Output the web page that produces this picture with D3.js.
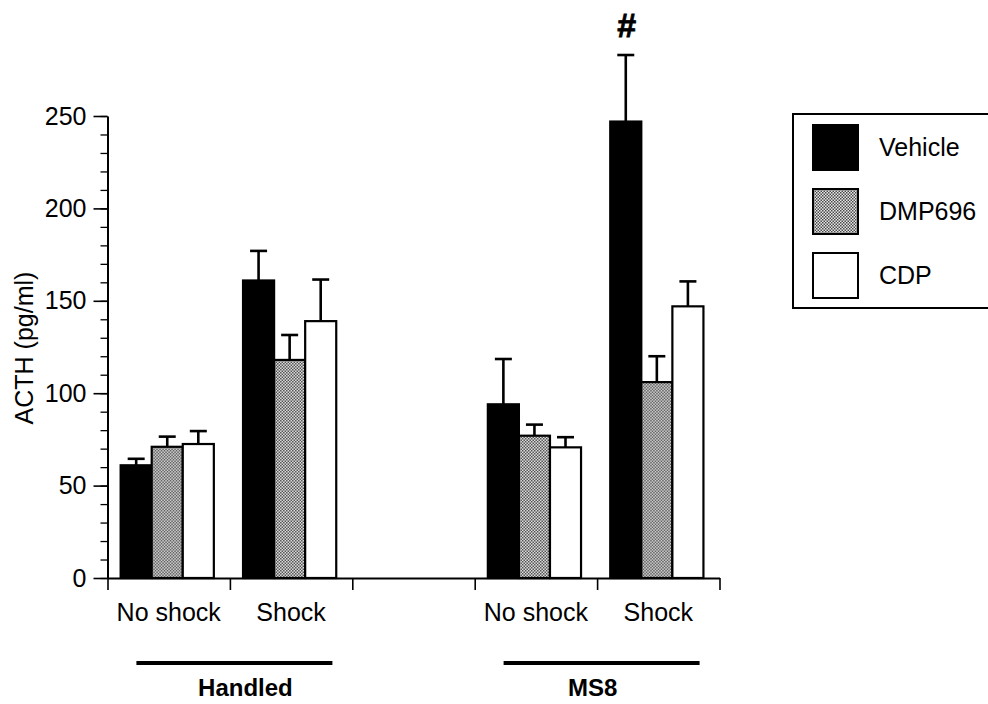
<!DOCTYPE html>
<html>
<head>
<meta charset="utf-8">
<script src="https://cdn.jsdelivr.net/npm/d3@7"></script>
<style>
  html, body { margin: 0; padding: 0; background: #fff; }
  svg { display: block; font-family: "Liberation Sans", Arial, Helvetica, sans-serif; }
</style>
</head>
<body>
<div id="chart"></div>
<script>
const WIDTH = 988;
const HEIGHT = 704;

const AXIS_LEFT = 107.5;
const AXIS_RIGHT = 719.5;
const Y_BOTTOM = 578;
const Y_TOP = 116;
const FONT_SIZE = 25;
const BOLD_SIZE = 24;
const GROUP_LINE_HALF = 98;
const GROUP_LINE_SHIFT = 4.5;
const GROUP_LABEL_SHIFT = { Handled: 11, MS8: -9 };

// data
const groups = ["Handled", "MS8"];
const conditions = ["No shock", "Shock"];
const series = ["Vehicle", "DMP696", "CDP"];
const vehicleValues = [61, 161, 94, 247];
const dmp696Values = [71, 118, 77, 106];
const cdpValues = [72.5, 139, 70.7, 147];
const vehicleErrors = [3.5, 16, 24.5, 36];
const dmp696Errors = [5.5, 13.5, 6, 14];
const cdpErrors = [7, 22.5, 5.5, 13.5];
const yTicks = [0, 50, 100, 150, 200, 250];
const markedBar = { group: "MS8", condition: "Shock", series: "Vehicle", label: "#" };

// slots along the x axis, with an empty slot between the two groups
const slots = [];
groups.forEach((g, gi) => {
  if (gi > 0) slots.push("gap");
  conditions.forEach(c => slots.push(g + "|" + c));
});

const valuesBySeries = { Vehicle: vehicleValues, DMP696: dmp696Values, CDP: cdpValues };
const errorsBySeries = { Vehicle: vehicleErrors, DMP696: dmp696Errors, CDP: cdpErrors };

const rows = [];
groups.forEach((g, gi) => {
  conditions.forEach((c, ci) => {
    const idx = gi * conditions.length + ci;
    series.forEach(s => {
      rows.push({ group: g, condition: c, series: s,
        value: valuesBySeries[s][idx], error: errorsBySeries[s][idx] });
    });
  });
});

const svg = d3.select("#chart").append("svg")
  .attr("width", WIDTH)
  .attr("height", HEIGHT);

// halftone fill used for the DMP696 bars
const defs = svg.append("defs");
const pat = defs.append("pattern")
  .attr("id", "halftone")
  .attr("patternUnits", "userSpaceOnUse")
  .attr("width", 3).attr("height", 3);
pat.append("rect").attr("width", 3).attr("height", 3).attr("fill", "#e6e6e6");
pat.append("rect").attr("x", 0).attr("y", 0).attr("width", 1.5).attr("height", 1.5).attr("fill", "#4a4a4a");
pat.append("rect").attr("x", 1.5).attr("y", 1.5).attr("width", 1.5).attr("height", 1.5).attr("fill", "#4a4a4a");

const fills = { Vehicle: "#000", DMP696: "url(#halftone)", CDP: "#fff" };

const y = d3.scaleLinear().domain([0, 250]).range([Y_BOTTOM, Y_TOP]);
const x = d3.scaleBand().domain(slots).range([AXIS_LEFT, AXIS_RIGHT]).padding(0);
const xInner = d3.scaleBand().domain(series).range([0, x.bandwidth()])
  .paddingInner(0).paddingOuter(0.47).align(0.45);
const xEdges = d3.scaleLinear().domain([0, slots.length]).range([AXIS_LEFT, AXIS_RIGHT]);

// y axis: minor ticks every 10, major every 50
svg.append("g")
  .attr("transform", `translate(${AXIS_LEFT},0)`)
  .call(d3.axisLeft(y).tickValues(d3.range(0, 251, 10)).tickSize(7).tickFormat(""))
  .call(g => g.select(".domain").remove())
  .call(g => g.selectAll("line").attr("stroke-width", 1.3));

svg.append("g")
  .attr("transform", `translate(${AXIS_LEFT},0)`)
  .call(d3.axisLeft(y).tickValues(yTicks).tickSize(14).tickPadding(7).tickSizeOuter(0))
  .call(g => g.select(".domain").attr("stroke-width", 2))
  .call(g => g.selectAll("line").attr("stroke-width", 1.6))
  .call(g => g.selectAll("text")
    .attr("font-size", FONT_SIZE)
    .attr("font-family", "'Liberation Sans', Arial, sans-serif")
    .attr("fill", "#000"));

// x axis: ticks at slot edges
svg.append("g")
  .attr("transform", `translate(0,${Y_BOTTOM})`)
  .call(d3.axisBottom(xEdges).tickValues(d3.range(0, slots.length + 1)).tickSize(12).tickFormat("").tickSizeOuter(0))
  .call(g => g.select(".domain").attr("stroke-width", 2))
  .call(g => g.selectAll("line").attr("stroke-width", 1.6));

// y axis title
svg.append("text")
  .attr("transform", `translate(33,${(Y_BOTTOM + Y_TOP) / 2 + 1}) rotate(-90)`)
  .attr("text-anchor", "middle")
  .attr("font-size", FONT_SIZE)
  .text("ACTH (pg/ml)");

// bars
const barGroups = svg.append("g").selectAll("g")
  .data(rows)
  .join("g")
  .attr("transform", d => `translate(${x(d.group + "|" + d.condition) + xInner(d.series)},0)`);

// error bars (upper only), drawn first so the bar outline sits on top
barGroups.append("line")
  .attr("x1", xInner.bandwidth() / 2)
  .attr("x2", xInner.bandwidth() / 2)
  .attr("y1", d => y(d.value))
  .attr("y2", d => y(d.value + d.error))
  .attr("stroke", "#000")
  .attr("stroke-width", 2.6);

barGroups.append("line")
  .attr("x1", xInner.bandwidth() / 2 - 8.5)
  .attr("x2", xInner.bandwidth() / 2 + 8.5)
  .attr("y1", d => y(d.value + d.error))
  .attr("y2", d => y(d.value + d.error))
  .attr("stroke", "#000")
  .attr("stroke-width", 2.6);

barGroups.append("rect")
  .attr("x", 0)
  .attr("y", d => y(d.value))
  .attr("width", xInner.bandwidth())
  .attr("height", d => y(0) - y(d.value))
  .attr("fill", d => fills[d.series])
  .attr("stroke", "#000")
  .attr("stroke-width", 2.2);

// significance mark
const marked = rows.find(d => d.group === markedBar.group && d.condition === markedBar.condition && d.series === markedBar.series);
svg.append("text")
  .attr("x", x(marked.group + "|" + marked.condition) + xInner(marked.series) + xInner.bandwidth() / 2 + 1)
  .attr("y", y(marked.value + marked.error) - 18)
  .attr("text-anchor", "middle")
  .attr("font-size", 34)
  .attr("font-weight", "bold")
  .attr("stroke", "#000")
  .attr("stroke-width", 0.8)
  .text(markedBar.label);

// condition labels under the axis
slots.filter(s => s !== "gap").forEach(s => {
  svg.append("text")
    .attr("x", x(s) + x.bandwidth() / 2)
    .attr("y", 621)
    .attr("text-anchor", "middle")
    .attr("font-size", FONT_SIZE)
    .text(s.split("|")[1]);
});

// group bars and labels
groups.forEach(g => {
  const x0 = x(g + "|" + conditions[0]);
  const x1 = x(g + "|" + conditions[conditions.length - 1]) + x.bandwidth();
  const cx = (x0 + x1) / 2 + GROUP_LINE_SHIFT;
  svg.append("line")
    .attr("x1", cx - GROUP_LINE_HALF).attr("x2", cx + GROUP_LINE_HALF)
    .attr("y1", 663).attr("y2", 663)
    .attr("stroke", "#000")
    .attr("stroke-width", 4);
  svg.append("text")
    .attr("x", cx + GROUP_LABEL_SHIFT[g])
    .attr("y", 696)
    .attr("text-anchor", "middle")
    .attr("font-size", BOLD_SIZE)
    .attr("font-weight", "bold")
    .text(g);
});

// legend, box runs off the right edge as in the figure
const legend = svg.append("g");
legend.append("rect")
  .attr("x", 793).attr("y", 114)
  .attr("width", 260).attr("height", 194)
  .attr("fill", "none")
  .attr("stroke", "#000")
  .attr("stroke-width", 2);

const legendItems = legend.selectAll("g.item")
  .data(series)
  .join("g")
  .attr("class", "item")
  .attr("transform", (d, i) => `translate(813,${125 + i * 64})`);

legendItems.append("rect")
  .attr("width", 45).attr("height", 45)
  .attr("fill", d => fills[d])
  .attr("stroke", "#000")
  .attr("stroke-width", 2);

legendItems.append("text")
  .attr("x", 66)
  .attr("y", 22.5)
  .attr("dy", "0.35em")
  .attr("font-size", FONT_SIZE)
  .text(d => d);
</script>
</body>
</html>
